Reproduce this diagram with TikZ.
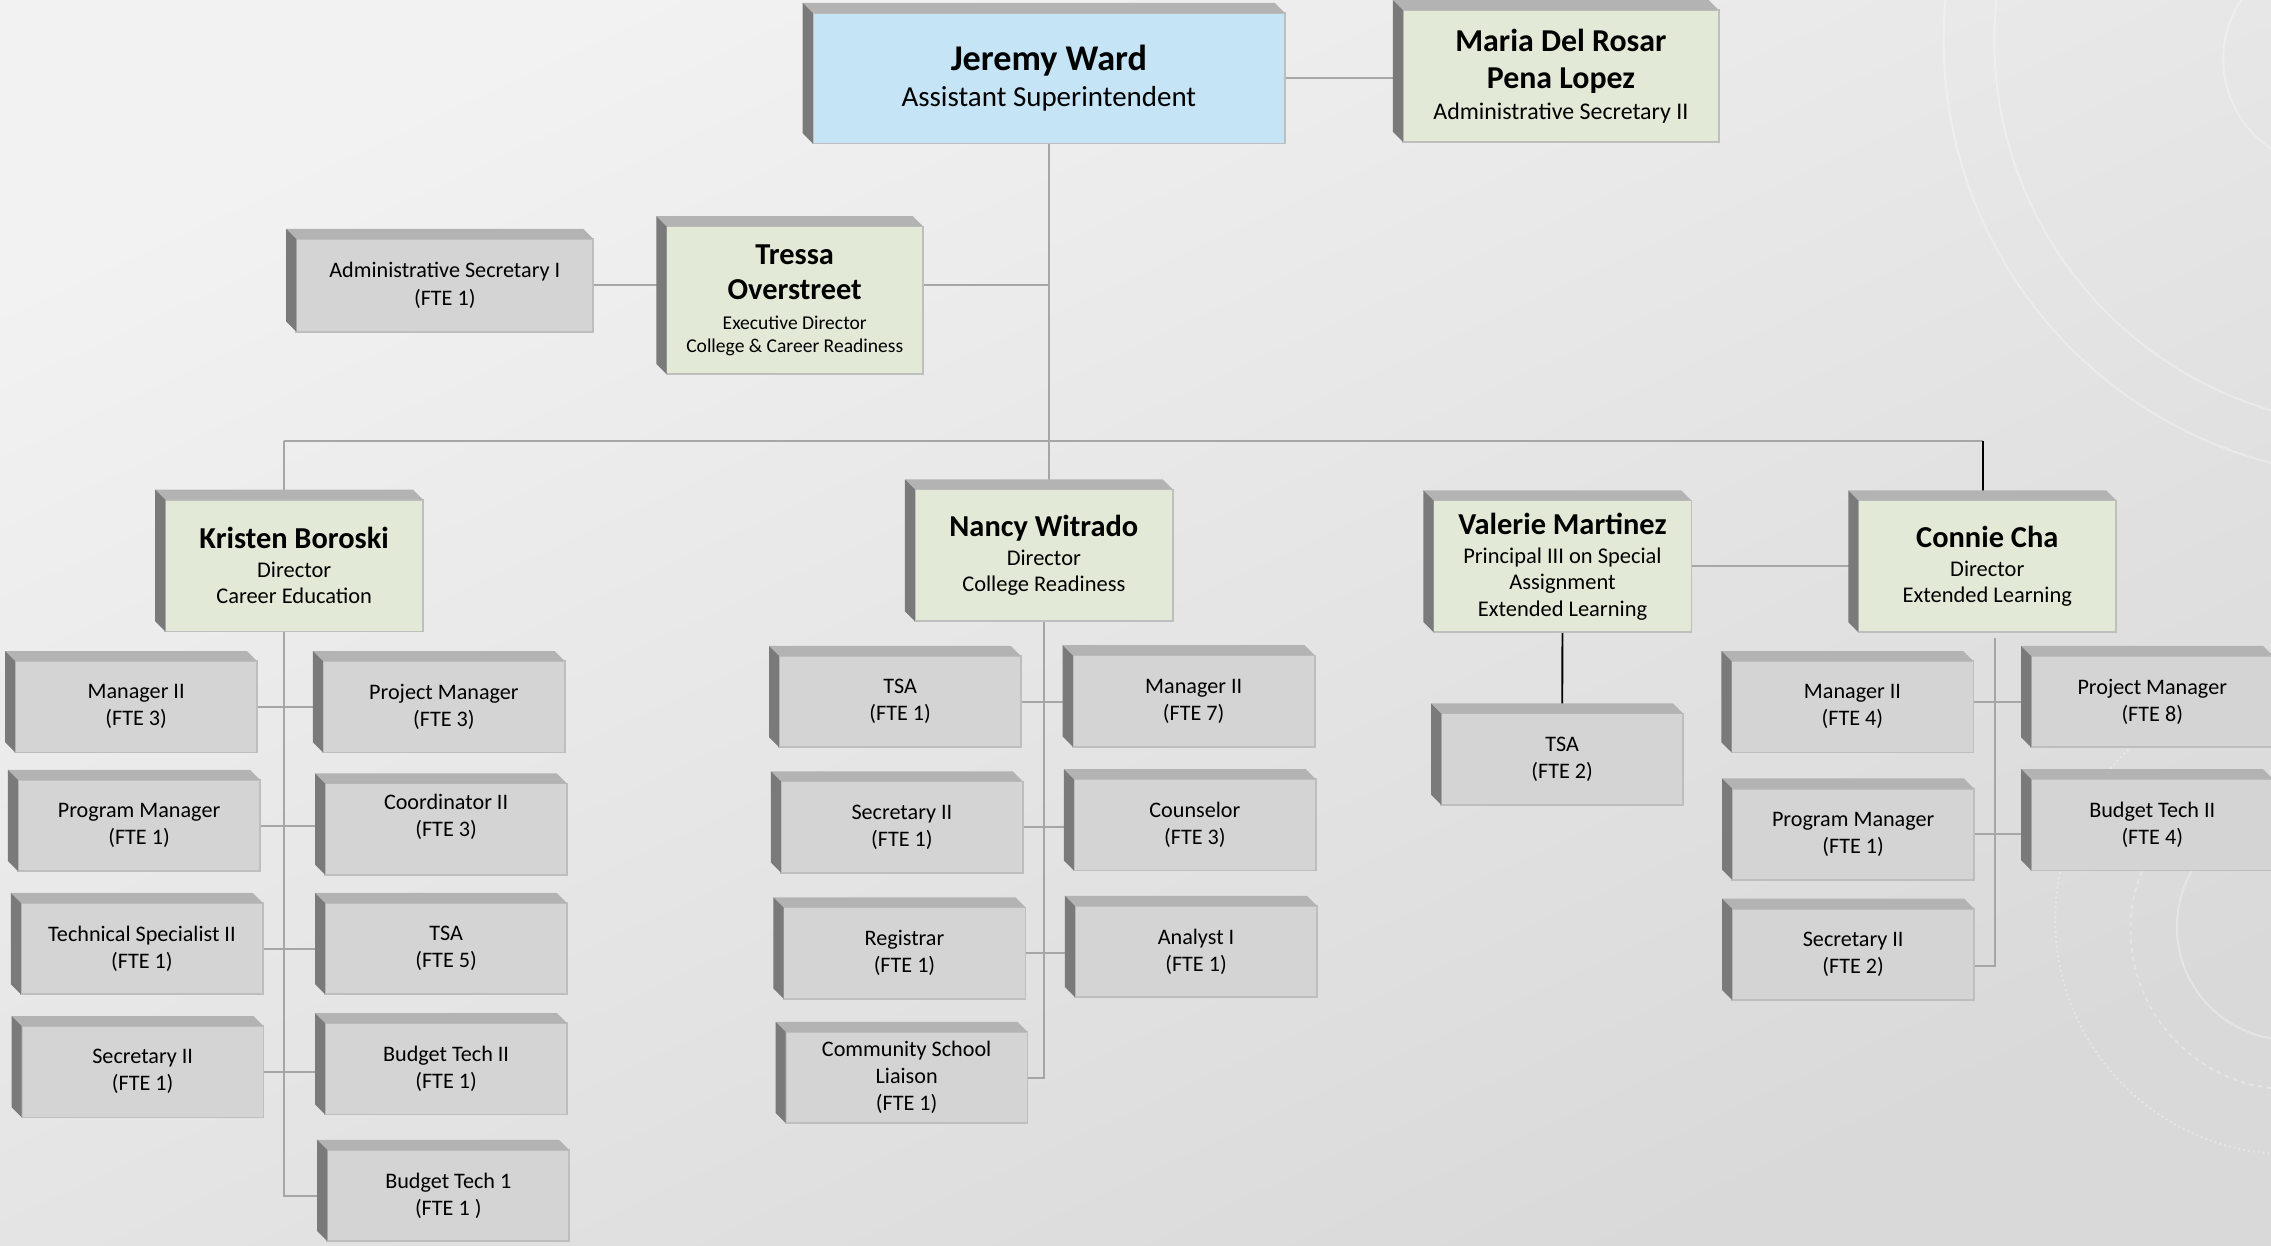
\documentclass[tikz,border=0pt]{standalone}
\usepackage{fontspec}
\setmainfont{Carlito}
\usetikzlibrary{backgrounds}

\definecolor{bgtop}{HTML}{F2F2F2}
\definecolor{bgbot}{HTML}{D9D9D9}
\definecolor{facegray}{HTML}{D4D4D4}
\definecolor{facegreen}{HTML}{E2E9D6}
\definecolor{faceblue}{HTML}{C5E4F6}
\definecolor{rim}{HTML}{BEBEBE}
\definecolor{bevtop}{HTML}{B3B3B3}
\definecolor{bevside}{HTML}{7A7A7A}
\definecolor{linegray}{HTML}{A6A6A6}

% bold name line of a head box
\newcommand{\nm}[1]{{\fontsize{21}{24}\selectfont\bfseries #1}}
% raised edges above and left of a box
\newcommand{\bevel}[1]{%
  \fill[bevtop] (#1.north west) -- (#1.north east) -- ++(-7,-7)
    -- ([shift={(-7,-7)}]#1.north west) -- cycle;
  \fill[bevside] (#1.north west) -- ([shift={(-7,-7)}]#1.north west)
    -- ([shift={(-7,-7)}]#1.south west) -- (#1.south west) -- cycle;}

\begin{document}
\begin{tikzpicture}[x=1pt, y=-1pt,
      every node/.append style={align=center, inner sep=0pt, outer sep=0pt},
      role/.style={draw=rim, line width=1.2pt, fill=facegray, minimum width=167pt,
        minimum height=63pt, font=\fontsize{15.3}{18.7}\selectfont},
      head/.style={role, fill=facegreen, minimum width=178pt, minimum height=91pt,
        font=\fontsize{15.5}{18.2}\selectfont}]
    \tikzstyle{link} = [linegray, line width=1.3pt]
    \tikzstyle{deco} = [white, opacity=.3, line width=1.4pt]
    \useasboundingbox (0,0) rectangle (1568,860);
    \begin{scope}[on background layer]
      \shade[top color=bgtop, bottom color=bgbot, shading angle=25] (0,0) rectangle (1568,860);
      \begin{scope}
        \clip (0,0) rectangle (1568,860);
        \draw[deco] (1643,28) circle [radius=301];
        \draw[deco] (1643,28) circle [radius=266];
        \draw[deco] (1609,41) circle [radius=74];
        \draw[deco] (1581,640) circle [radius=78];
        \draw[deco, dashed] (1581,642) circle [radius=110];
        \draw[deco, dotted] (1581,635) circle [radius=162];
      \end{scope}
    \end{scope}

    % top
    \node (jw) [role, fill=faceblue, minimum width=326pt, minimum height=90pt,
      font=\fontsize{20}{24}\selectfont] at (724.2,54)
      {{\fontsize{25}{28}\selectfont\bfseries Jeremy Ward}\\[1pt] Assistant Superintendent};
    \node (mr) [role, fill=facegreen, minimum width=218pt, minimum height=91pt,
      font=\fontsize{16.5}{21}\selectfont] at (1077.7,52.5)
      {{\fontsize{22}{27}\selectfont\bfseries Maria Del Rosar}\\[5pt]
       {\fontsize{22}{27}\selectfont\bfseries Pena Lopez}\\ Administrative Secretary II};
    \node (ts) [head, minimum width=177pt, minimum height=102pt,
      font=\fontsize{13.5}{15.7}\selectfont] at (548.7,207.3)
      {\nm{Tressa}\\[8.5pt] \nm{Overstreet}\\[5pt] Executive Director\\ College \& Career Readiness};
    \node (asec) [role, minimum width=205pt, minimum height=64pt] at (307.1,197)
      {Administrative Secretary I\\(FTE 1)};

    % directors
    \node (kb) [head] at (203.1,390.5) {\nm{Kristen Boroski}\\[2pt] Director\\ Career Education};
    \node (nw) [head] at (720.7,383.4) {\nm{Nancy Witrado}\\[2pt] Director\\ College Readiness};
    \node (vm) [head] at (1078.8,391) {\nm{Valerie Martinez}\\[2pt] Principal III on Special\\ Assignment\\ Extended Learning};
    \node (cc) [head] at (1372.1,391) {\nm{Connie Cha}\\[2pt] Director\\ Extended Learning};
    \node (vtsa) [role] at (1078.6,524.2) {TSA\\(FTE 2)};

    % career education
    \node (km2) [role] at (94,488) {Manager II\\(FTE 3)};
    \node (kpj) [role] at (306.5,488) {Project Manager\\(FTE 3)};
    \node (kpg) [role] at (96,570) {Program Manager\\(FTE 1)};
    \node (kco) [role] at (308,572.5) {Coordinator II\\(FTE 3)\\\mbox{}};
    \node (kts) [role] at (98,655) {Technical Specialist II\\(FTE 1)};
    \node (ktsa) [role] at (308,655) {TSA\\(FTE 5)};
    \node (ksec) [role] at (98.5,740) {Secretary II\\(FTE 1)};
    \node (kbt2) [role] at (308,738) {Budget Tech II\\(FTE 1)};
    \node (kbt1) [role] at (309.5,825.5) {Budget Tech 1\\(FTE 1 )};

    % college readiness
    \node (nt) [role] at (621.5,484.5) {TSA\\(FTE 1)};
    \node (nm2) [role] at (824.2,484) {Manager II\\(FTE 7)};
    \node (nsec) [role] at (622.7,571) {Secretary II\\(FTE 1)};
    \node (ncou) [role] at (825,569.5) {Counselor\\(FTE 3)};
    \node (nreg) [role] at (624.5,658) {Registrar\\(FTE 1)};
    \node (nan) [role] at (825.8,657) {Analyst I\\(FTE 1)};
    \node (ncsl) [role] at (626,744) {Community School\\Liaison\\(FTE 1)};

    % extended learning
    \node (cm2) [role] at (1279,488) {Manager II\\(FTE 4)};
    \node (cpj) [role] at (1486,484.5) {Project Manager\\(FTE 8)};
    \node (cpg) [role] at (1279.5,576) {Program Manager\\(FTE 1)};
    \node (cbt) [role] at (1486,569.5) {Budget Tech II\\(FTE 4)};
    \node (csec) [role] at (1279.5,659) {Secretary II\\(FTE 2)};

    \foreach \n in {jw,mr,ts,asec,kb,nw,vm,cc,vtsa,km2,kpj,kpg,kco,kts,ktsa,ksec,kbt2,kbt1,
        nt,nm2,nsec,ncou,nreg,nan,ncsl,cm2,cpj,cpg,cbt,csec} {\bevel{\n}}

    \coordinate (kbx) at (196.1,304.5);
    \coordinate (ccx) at (1368.9,304.5);
    \coordinate (csx) at (1377.3,440.5);

    \begin{scope}[on background layer={link}]
      \draw (jw.east) -- (jw.east -| mr.west);
      \draw (jw.south) -- (jw.south |- nw.north);
      \draw (asec.east) -- (asec.east -| jw.south);
      \draw (kbx) -- (ccx);
      \draw (kbx) -- (kbx |- kb.north);
      \draw (kb.south -| kbx) |- (kbt1.west);
      \draw (km2.east) -- (km2.east -| kpj.west);
      \draw (kpg.east) -- (kpg.east -| kco.west);
      \draw (kts.east) -- (kts.east -| ktsa.west);
      \draw (ksec.east) -- (ksec.east -| kbt2.west);
      \draw (nw.south) |- (ncsl.east);
      \draw (nt.east) -- (nt.east -| nm2.west);
      \draw (nsec.east) -- (nsec.east -| ncou.west);
      \draw (nreg.east) -- (nreg.east -| nan.west);
      \draw (vm.east) -- (vm.east -| cc.west);
      \draw (csx) |- ([yshift=-8pt]csec.east);
      \draw (cm2.east |- cpj.west) -- (cpj.west);
      \draw (cpg.east) -- (cpg.east -| cbt.west);
      \draw[black] (ccx) -- (ccx |- cc.north);
      \draw[black] (vm.south) -- (vtsa.north);
    \end{scope}
\end{tikzpicture}
\end{document}
